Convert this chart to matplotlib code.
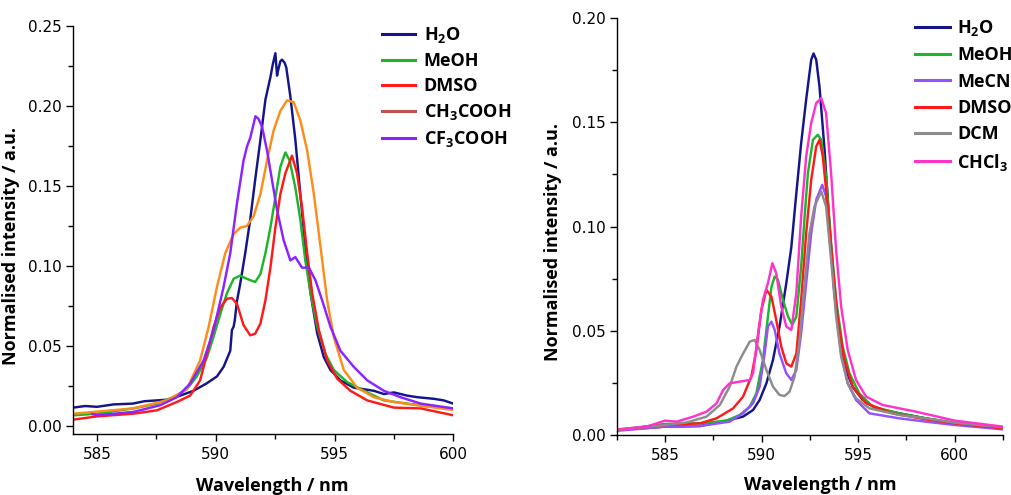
import matplotlib
matplotlib.use("Agg")
import matplotlib.pyplot as plt
from matplotlib.lines import Line2D
from matplotlib.ticker import MultipleLocator, FormatStrFormatter

plt.rcParams['font.family'] = ['Liberation Sans Narrow', 'DejaVu Sans']
plt.rcParams['mathtext.fontset'] = 'custom'
plt.rcParams['mathtext.rm'] = 'Open Sans:bold'
plt.rcParams['mathtext.it'] = 'Open Sans:bold'
plt.rcParams['mathtext.bf'] = 'Open Sans:bold'

# ---------------- Left panel data ----------------
h2o_l_x = [584.00, 584.5, 585.0, 585.7, 586.5, 587.0, 587.5, 588.0, 588.5, 589.06, 589.6, 590.05, 590.33,
           590.61, 590.68, 590.75, 590.8, 590.89, 591.03, 591.24, 591.45, 591.66, 591.88, 592.09, 592.30,
           592.40, 592.51, 592.58, 592.62, 592.72, 592.79, 592.90, 592.97, 593.14, 593.35, 593.56, 593.77,
           593.99, 594.27, 594.55, 594.83, 595.25, 595.81, 596.66, 597.08, 597.50, 598.06, 598.49, 599.19,
           599.6, 600.00]
h2o_l_y = [0.0115, 0.0125, 0.012, 0.0135, 0.014, 0.0155, 0.016, 0.0165, 0.019, 0.022, 0.0265, 0.031, 0.037,
           0.047, 0.060, 0.062, 0.066, 0.078, 0.089, 0.108, 0.129, 0.154, 0.179, 0.204, 0.218,
           0.226, 0.233, 0.219, 0.222, 0.228, 0.229, 0.227, 0.224, 0.206, 0.179, 0.145, 0.112,
           0.083, 0.058, 0.043, 0.035, 0.0285, 0.024, 0.022, 0.020, 0.021, 0.019, 0.018, 0.017,
           0.016, 0.014]

meoh_l_x = [584.00, 585.0, 586.53, 587.52, 588.36, 588.78, 589.20, 589.63, 589.91, 590.19, 590.47, 590.75,
            591.03, 591.31, 591.66, 591.88, 592.09, 592.30, 592.51, 592.72, 592.93, 593.11, 593.35, 593.56,
            593.77, 593.99, 594.27, 594.62, 594.97, 595.53, 596.24, 597.08, 598.06, 599.19, 600.00]
meoh_l_y = [0.0067, 0.0077, 0.011, 0.014, 0.019, 0.023, 0.031, 0.043, 0.056, 0.070, 0.083, 0.092,
            0.094, 0.092, 0.090, 0.095, 0.108, 0.124, 0.143, 0.162, 0.171, 0.166, 0.149, 0.129,
            0.1035, 0.083, 0.062, 0.045, 0.035, 0.0275, 0.022, 0.016, 0.014, 0.012, 0.011]

dmso_l_x = [584.00, 585.0, 586.53, 587.52, 588.36, 588.92, 589.34, 589.63, 589.91, 590.19, 590.47, 590.68,
            590.89, 591.17, 591.45, 591.66, 591.88, 592.09, 592.30, 592.51, 592.72, 592.93, 593.21, 593.42,
            593.63, 593.85, 594.06, 594.34, 594.69, 595.11, 595.67, 596.38, 597.50, 598.63, 600.00]
dmso_l_y = [0.004, 0.006, 0.0077, 0.0098, 0.015, 0.019, 0.0285, 0.045, 0.062, 0.074, 0.0796, 0.080,
            0.0765, 0.063, 0.0567, 0.0577, 0.064, 0.0785, 0.099, 0.124, 0.145, 0.158, 0.169, 0.158,
            0.137, 0.108, 0.083, 0.060, 0.041, 0.0296, 0.022, 0.016, 0.0115, 0.011, 0.0067]

ch3_l_x = [584.00, 586.53, 587.94, 588.78, 589.34, 589.70, 590.05, 590.40, 590.75, 591.03, 591.31, 591.59,
           591.88, 592.16, 592.44, 592.72, 593.00, 593.28, 593.56, 593.85, 594.13, 594.41, 594.69, 594.97,
           595.39, 595.95, 596.66, 597.50, 598.49, 600.00]
ch3_l_y = [0.0077, 0.011, 0.016, 0.023, 0.041, 0.062, 0.087, 0.108, 0.120, 0.124, 0.125, 0.131,
           0.145, 0.166, 0.185, 0.197, 0.2035, 0.2025, 0.191, 0.172, 0.145, 0.112, 0.0785, 0.0556,
           0.035, 0.024, 0.018, 0.015, 0.013, 0.010]

cf3_l_x = [584.8, 585.0, 586.53, 587.66, 588.36, 588.92, 589.49, 589.91, 590.33, 590.61, 590.89, 591.17,
           591.32, 591.45, 591.67, 591.80, 591.95, 592.16, 592.37, 592.58, 592.86, 593.14, 593.35, 593.63,
           593.92, 594.20, 594.48, 594.83, 595.25, 595.81, 596.38, 597.08, 597.78, 598.63, 600.00]
cf3_l_y = [0.0075, 0.0067, 0.0088, 0.013, 0.018, 0.0265, 0.041, 0.060, 0.087, 0.108, 0.139, 0.166,
           0.175, 0.180, 0.1936, 0.192, 0.187, 0.172, 0.1535, 0.135, 0.116, 0.1035, 0.1056, 0.099,
           0.099, 0.091, 0.0785, 0.062, 0.047, 0.037, 0.0285, 0.022, 0.018, 0.014, 0.011]

left_labels = [r'H$_2$O', 'MeOH', 'DMSO', r'CH$_3$COOH', r'CF$_3$COOH']
left_colors = ['#15158A', '#1DB52A', '#FF1A1A', '#FF8C1A', '#8C22FF']
left_legend_colors = ['#15158A', '#1DB52A', '#FF1A1A', '#C0504D', '#8C22FF']

# ---------------- Right panel data ----------------
h2o_r_x = [582.51, 585.00, 586.81, 588.18, 589.04, 589.56, 589.90, 590.25, 590.59, 590.93, 591.28, 591.54,
           591.80, 592.05, 592.31, 592.57, 592.69, 592.83, 593.00, 593.26, 593.52, 593.77, 594.03, 594.38,
           594.72, 595.24, 595.92, 597.13, 598.50, 600.00, 602.50]
h2o_r_y = [0.0024, 0.004, 0.0043, 0.0069, 0.0088, 0.012, 0.0168, 0.0248, 0.036, 0.052, 0.0728, 0.090,
           0.116, 0.140, 0.161, 0.180, 0.183, 0.180, 0.167, 0.137, 0.100, 0.068, 0.047, 0.031,
           0.023, 0.0168, 0.0128, 0.0104, 0.008, 0.0056, 0.0037]

meoh_r_x = [582.51, 585.00, 586.81, 588.18, 588.87, 589.39, 589.73, 590.07, 590.33, 590.51, 590.68, 590.85,
            591.11, 591.37, 591.59, 591.80, 592.05, 592.23, 592.40, 592.66, 592.91, 593.09, 593.34, 593.60,
            593.86, 594.20, 594.55, 595.06, 595.75, 597.13, 598.50, 600.00, 602.50]
meoh_r_y = [0.0024, 0.0053, 0.0056, 0.0069, 0.0096, 0.0136, 0.020, 0.036, 0.0568, 0.071, 0.076, 0.0744,
            0.0648, 0.0568, 0.0528, 0.0568, 0.081, 0.1048, 0.1256, 0.1416, 0.144, 0.1416, 0.124, 0.092,
            0.0648, 0.0424, 0.0296, 0.020, 0.0136, 0.0104, 0.008, 0.0059, 0.0037]

mecn_r_x = [582.51, 585.00, 586.81, 588.35, 589.04, 589.56, 589.90, 590.16, 590.33, 590.51, 590.68, 590.93,
            591.28, 591.54, 591.80, 592.05, 592.31, 592.57, 592.83, 593.14, 593.34, 593.60, 593.86, 594.12,
            594.46, 594.89, 595.58, 597.13, 598.50, 600.00, 602.50]
mecn_r_y = [0.002, 0.004, 0.0043, 0.0064, 0.0104, 0.0152, 0.0232, 0.039, 0.052, 0.0544, 0.0504, 0.039,
            0.0296, 0.0264, 0.0312, 0.0488, 0.0728, 0.0968, 0.1128, 0.120, 0.1144, 0.087, 0.060, 0.039,
            0.0248, 0.0168, 0.0104, 0.008, 0.0064, 0.0048, 0.0027]

dmso_r_x = [582.51, 585.00, 586.81, 587.67, 588.53, 589.04, 589.47, 589.73, 589.99, 590.25, 590.51, 590.76,
            591.02, 591.28, 591.54, 591.80, 592.05, 592.31, 592.57, 592.83, 593.00, 593.17, 593.43, 593.69,
            593.95, 594.29, 594.72, 595.41, 596.78, 598.50, 600.00, 602.50]
dmso_r_y = [0.0024, 0.0048, 0.0056, 0.008, 0.0128, 0.0184, 0.028, 0.0408, 0.060, 0.0696, 0.0664, 0.0552,
            0.0424, 0.0344, 0.0328, 0.039, 0.0648, 0.0968, 0.1224, 0.1384, 0.1416, 0.1336, 0.1096, 0.081,
            0.0552, 0.036, 0.0232, 0.0152, 0.0104, 0.0075, 0.0056, 0.0032]

dcm_r_x = [582.51, 585.00, 586.12, 587.15, 587.84, 588.35, 588.70, 589.04, 589.39, 589.64, 589.90, 590.25,
           590.59, 590.93, 591.19, 591.45, 591.71, 591.97, 592.23, 592.48, 592.74, 593.09, 593.34, 593.60,
           593.86, 594.12, 594.46, 594.89, 595.58, 597.13, 598.50, 600.00, 602.50]
dcm_r_y = [0.0024, 0.0048, 0.006, 0.0088, 0.0144, 0.0232, 0.0328, 0.039, 0.0448, 0.0456, 0.0408, 0.0312,
           0.0232, 0.0192, 0.0187, 0.0208, 0.028, 0.0456, 0.0728, 0.0968, 0.1096, 0.1168, 0.1096, 0.0842,
           0.0568, 0.0376, 0.0248, 0.0176, 0.0128, 0.0096, 0.008, 0.0059, 0.0037]

chcl3_r_x = [582.51, 584.05, 585.00, 585.60, 586.46, 587.15, 587.67, 588.01, 588.35, 588.87, 589.39, 589.56,
             589.82, 590.07, 590.33, 590.56, 590.76, 591.02, 591.28, 591.54, 591.80, 592.05, 592.31, 592.57,
             592.83, 593.09, 593.34, 593.60, 593.86, 594.12, 594.46, 594.89, 595.41, 596.27, 597.99, 600.00,
             602.50]
chcl3_r_y = [0.0027, 0.004, 0.0069, 0.0064, 0.0088, 0.0112, 0.0152, 0.0216, 0.0248, 0.0256, 0.0264, 0.0296,
             0.0488, 0.0648, 0.0728, 0.0824, 0.0776, 0.0616, 0.052, 0.0504, 0.068, 0.1048, 0.1336, 0.1496,
             0.1592, 0.1616, 0.1544, 0.1256, 0.0888, 0.0616, 0.0408, 0.0264, 0.0184, 0.0144, 0.0112, 0.0069,
             0.004]

right_labels = [r'H$_2$O', 'MeOH', 'MeCN', 'DMSO', 'DCM', r'CHCl$_3$']
right_colors = ['#15158A', '#1DB52A', '#9650FF', '#FF1A1A', '#8C8C8C', '#FF33CC']

# ---------------- Figure ----------------
fig = plt.figure(figsize=(10.12, 4.95), dpi=100)
axL = fig.add_axes([0.0724, 0.1232, 0.3755, 0.8242])
axR = fig.add_axes([0.6094, 0.1212, 0.3817, 0.8424])

lw = 1.75
left_series = [(h2o_l_x, h2o_l_y), (meoh_l_x, meoh_l_y), (dmso_l_x, dmso_l_y),
               (ch3_l_x, ch3_l_y), (cf3_l_x, cf3_l_y)]
for (xs, ys), c in zip(left_series, left_colors):
    axL.plot(xs, ys, color=c, lw=lw)

right_series = [(h2o_r_x, h2o_r_y), (meoh_r_x, meoh_r_y), (mecn_r_x, mecn_r_y),
                (dmso_r_x, dmso_r_y), (dcm_r_x, dcm_r_y), (chcl3_r_x, chcl3_r_y)]
for (xs, ys), c in zip(right_series, right_colors):
    axR.plot(xs, ys, color=c, lw=lw)

axL.set_xlim(584, 600)
axL.set_ylim(-0.005, 0.25)
axR.set_xlim(582.5, 602.5)
axR.set_ylim(0.0, 0.20)

label_font = dict(family=['Open Sans', 'DejaVu Sans'], fontweight='bold', fontsize=13)

for ax in (axL, axR):
    ax.spines['top'].set_visible(False)
    ax.spines['right'].set_visible(False)
    ax.spines['left'].set_linewidth(1.0)
    ax.spines['bottom'].set_linewidth(1.0)
    ax.xaxis.set_major_locator(MultipleLocator(5))
    ax.xaxis.set_minor_locator(MultipleLocator(2.5))
    ax.yaxis.set_major_locator(MultipleLocator(0.05))
    ax.yaxis.set_minor_locator(MultipleLocator(0.025))
    ax.yaxis.set_major_formatter(FormatStrFormatter('%.2f'))
    ax.tick_params(which='major', direction='out', length=5, width=1.0, labelsize=11, pad=3)
    ax.tick_params(which='minor', direction='out', length=3.5, width=1.0)
    ax.tick_params(axis='x', which='major', pad=4)
    ax.set_xlabel('Wavelength / nm', **label_font)
    ax.set_ylabel('Normalised intensity / a.u.', **label_font)

axL.xaxis.set_label_coords(0.523, -0.105)
axL.yaxis.set_label_coords(-0.140, 0.461)
axR.xaxis.set_label_coords(0.526, -0.098)
axR.yaxis.set_label_coords(-0.142, 0.463)

leg_font = {'family': ['Open Sans', 'DejaVu Sans'], 'weight': 'bold', 'size': 13}

handlesL = [Line2D([], [], color=c, lw=2.2) for c in left_legend_colors]
fig.legend(handlesL, left_labels, loc='upper left', bbox_to_anchor=(382 / 1012, 1 - 25 / 495),
           bbox_transform=fig.transFigure, frameon=False, prop=leg_font, borderpad=0,
           borderaxespad=0, handlelength=1.85, handletextpad=0.45, labelspacing=0.39)

handlesR = [Line2D([], [], color=c, lw=2.2) for c in right_colors]
fig.legend(handlesR, right_labels, loc='upper left', bbox_to_anchor=(915 / 1012, 1 - 18 / 495),
           bbox_transform=fig.transFigure, frameon=False, prop=leg_font, borderpad=0,
           borderaxespad=0, handlelength=1.95, handletextpad=0.4, labelspacing=0.46)

fig.savefig('out.png', dpi=100)
